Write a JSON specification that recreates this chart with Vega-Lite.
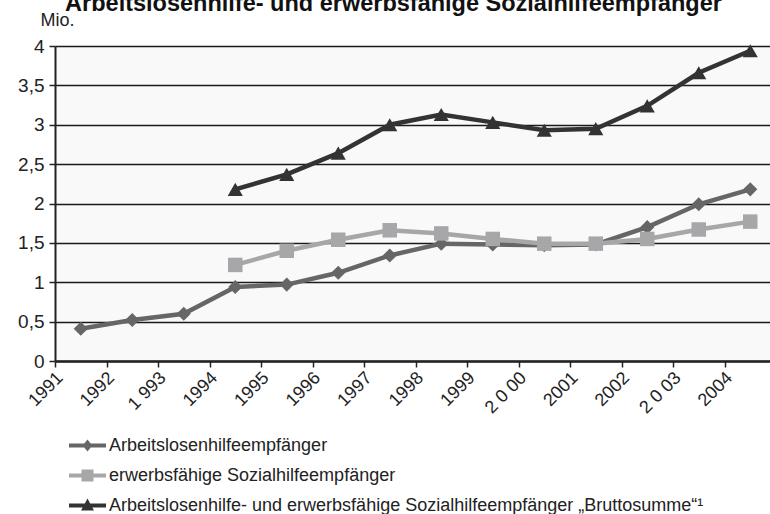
{
  "$schema": "https://vega.github.io/schema/vega-lite/v6.json",
  "autosize": {"type": "none"},
  "padding": {"left": 55, "top": 46, "right": 0, "bottom": 153},
  "width": 721,
  "height": 315,
  "background": "white",
  "title": {
    "text": "Arbeitslosenhilfe- und erwerbsfähige Sozialhilfeempfänger",
    "font": "Liberation Sans",
    "fontSize": 23.5,
    "fontWeight": "bold",
    "color": "#111111",
    "anchor": "middle",
    "frame": "group",
    "baseline": "alphabetic",
    "offset": -23,
    "dx": -22
  },
  "config": {
    "view": {"fill": "#f9f9f9", "stroke": null},
    "font": "Liberation Sans"
  },
  "data": {
    "values": [
      {"Jahr": "1991", "Reihe": "Arbeitslosenhilfeempfänger", "Wert": 0.41},
      {"Jahr": "1992", "Reihe": "Arbeitslosenhilfeempfänger", "Wert": 0.52},
      {"Jahr": "1993", "Reihe": "Arbeitslosenhilfeempfänger", "Wert": 0.6},
      {"Jahr": "1994", "Reihe": "Arbeitslosenhilfeempfänger", "Wert": 0.94},
      {"Jahr": "1995", "Reihe": "Arbeitslosenhilfeempfänger", "Wert": 0.97},
      {"Jahr": "1996", "Reihe": "Arbeitslosenhilfeempfänger", "Wert": 1.12},
      {"Jahr": "1997", "Reihe": "Arbeitslosenhilfeempfänger", "Wert": 1.34},
      {"Jahr": "1998", "Reihe": "Arbeitslosenhilfeempfänger", "Wert": 1.49},
      {"Jahr": "1999", "Reihe": "Arbeitslosenhilfeempfänger", "Wert": 1.48},
      {"Jahr": "2000", "Reihe": "Arbeitslosenhilfeempfänger", "Wert": 1.47},
      {"Jahr": "2001", "Reihe": "Arbeitslosenhilfeempfänger", "Wert": 1.48},
      {"Jahr": "2002", "Reihe": "Arbeitslosenhilfeempfänger", "Wert": 1.7},
      {"Jahr": "2003", "Reihe": "Arbeitslosenhilfeempfänger", "Wert": 1.99},
      {"Jahr": "2004", "Reihe": "Arbeitslosenhilfeempfänger", "Wert": 2.18},
      {"Jahr": "1994", "Reihe": "erwerbsfähige Sozialhilfeempfänger", "Wert": 1.22},
      {"Jahr": "1995", "Reihe": "erwerbsfähige Sozialhilfeempfänger", "Wert": 1.4},
      {"Jahr": "1996", "Reihe": "erwerbsfähige Sozialhilfeempfänger", "Wert": 1.54},
      {"Jahr": "1997", "Reihe": "erwerbsfähige Sozialhilfeempfänger", "Wert": 1.66},
      {"Jahr": "1998", "Reihe": "erwerbsfähige Sozialhilfeempfänger", "Wert": 1.62},
      {"Jahr": "1999", "Reihe": "erwerbsfähige Sozialhilfeempfänger", "Wert": 1.55},
      {"Jahr": "2000", "Reihe": "erwerbsfähige Sozialhilfeempfänger", "Wert": 1.49},
      {"Jahr": "2001", "Reihe": "erwerbsfähige Sozialhilfeempfänger", "Wert": 1.49},
      {"Jahr": "2002", "Reihe": "erwerbsfähige Sozialhilfeempfänger", "Wert": 1.55},
      {"Jahr": "2003", "Reihe": "erwerbsfähige Sozialhilfeempfänger", "Wert": 1.67},
      {"Jahr": "2004", "Reihe": "erwerbsfähige Sozialhilfeempfänger", "Wert": 1.77},
      {"Jahr": "1994", "Reihe": "Arbeitslosenhilfe- und erwerbsfähige Sozialhilfeempfänger „Bruttosumme“¹", "Wert": 2.18},
      {"Jahr": "1995", "Reihe": "Arbeitslosenhilfe- und erwerbsfähige Sozialhilfeempfänger „Bruttosumme“¹", "Wert": 2.37},
      {"Jahr": "1996", "Reihe": "Arbeitslosenhilfe- und erwerbsfähige Sozialhilfeempfänger „Bruttosumme“¹", "Wert": 2.64},
      {"Jahr": "1997", "Reihe": "Arbeitslosenhilfe- und erwerbsfähige Sozialhilfeempfänger „Bruttosumme“¹", "Wert": 3.0},
      {"Jahr": "1998", "Reihe": "Arbeitslosenhilfe- und erwerbsfähige Sozialhilfeempfänger „Bruttosumme“¹", "Wert": 3.13},
      {"Jahr": "1999", "Reihe": "Arbeitslosenhilfe- und erwerbsfähige Sozialhilfeempfänger „Bruttosumme“¹", "Wert": 3.03},
      {"Jahr": "2000", "Reihe": "Arbeitslosenhilfe- und erwerbsfähige Sozialhilfeempfänger „Bruttosumme“¹", "Wert": 2.93},
      {"Jahr": "2001", "Reihe": "Arbeitslosenhilfe- und erwerbsfähige Sozialhilfeempfänger „Bruttosumme“¹", "Wert": 2.95},
      {"Jahr": "2002", "Reihe": "Arbeitslosenhilfe- und erwerbsfähige Sozialhilfeempfänger „Bruttosumme“¹", "Wert": 3.24},
      {"Jahr": "2003", "Reihe": "Arbeitslosenhilfe- und erwerbsfähige Sozialhilfeempfänger „Bruttosumme“¹", "Wert": 3.66},
      {"Jahr": "2004", "Reihe": "Arbeitslosenhilfe- und erwerbsfähige Sozialhilfeempfänger „Bruttosumme“¹", "Wert": 3.94}
    ]
  },
  "encoding": {
    "x": {
      "field": "Jahr",
      "type": "ordinal",
      "scale": {"type": "band", "paddingInner": 0, "paddingOuter": 0},
      "axis": {
        "title": null,
        "tickBand": "extent",
        "grid": false,
        "domain": true,
        "domainColor": "#222222",
        "domainWidth": 2.5,
        "ticks": true,
        "tickColor": "#222222",
        "tickWidth": 1.5,
        "tickSize": 6,
        "labelAngle": -45,
        "labelAlign": "right",
        "labelBaseline": "middle",
        "labelPadding": 8,
        "labelOffset": -21,
        "labelFont": "Liberation Sans",
        "labelFontSize": 18,
        "labelColor": "#222222",
        "labelExpr": "datum.value == '2000' ? '2 0 00' : datum.value == '2003' ? '2 0 03' : datum.value == '1993' ? '1 993' : datum.value"
      }
    },
    "y": {
      "field": "Wert",
      "type": "quantitative",
      "scale": {"domain": [0, 4], "nice": false},
      "axis": {
        "values": [0, 0.5, 1, 1.5, 2, 2.5, 3, 3.5, 4],
        "labelExpr": "replace(toString(datum.value), '.', ',')",
        "labelFont": "Liberation Sans",
        "labelFontSize": 19,
        "labelColor": "#222222",
        "labelPadding": 5,
        "tickSize": 6,
        "tickColor": "#222222",
        "tickWidth": 1.5,
        "domainColor": "#222222",
        "domainWidth": 2,
        "grid": true,
        "gridColor": "#1a1a1a",
        "gridWidth": 1.5,
        "title": "Mio.",
        "titleAngle": 0,
        "titleAlign": "left",
        "titleBaseline": "alphabetic",
        "titleX": -15,
        "titleY": -21,
        "titleFont": "Liberation Sans",
        "titleFontSize": 18,
        "titleFontWeight": "normal",
        "titleColor": "#222222"
      }
    }
  },
  "layer": [
    {
      "mark": {"type": "line", "strokeWidth": 4.5},
      "encoding": {
        "color": {
          "field": "Reihe",
          "type": "nominal",
          "scale": {
            "domain": ["Arbeitslosenhilfeempfänger", "erwerbsfähige Sozialhilfeempfänger", "Arbeitslosenhilfe- und erwerbsfähige Sozialhilfeempfänger „Bruttosumme“¹"],
            "range": ["#666666", "#a7a7a9", "#333333"]
          },
          "legend": {
            "title": null,
            "orient": "none",
            "legendX": 23,
            "legendY": 390,
            "direction": "vertical",
            "symbolSize": 342,
            "symbolStrokeWidth": 0,
            "labelFont": "Liberation Sans",
            "labelFontSize": 18,
            "labelColor": "#222222",
            "labelOffset": 12,
            "rowPadding": 11,
            "labelLimit": 700,
            "encode": {
              "symbols": {
                "update": {
                  "shape": {"signal": "datum.value == 'Arbeitslosenhilfeempfänger' ? 'M-2,-0.216H-0.35L0,-0.65L0.35,-0.216H2V0.216H0.35L0,0.65L-0.35,0.216H-2Z' : datum.value == 'erwerbsfähige Sozialhilfeempfänger' ? 'M-2,-0.216H-0.65V-0.65H0.65V-0.216H2V0.216H0.65V0.65H-0.65V0.216H-2Z' : 'M-2,-0.216H-0.2875L0,-0.75L0.2875,-0.216H2V0.216H0.52L0.7,0.55H-0.7L-0.52,0.216H-2Z'"},
                  "fill": {"signal": "scale('color', datum.value)"},
                  "fillOpacity": {"value": 1},
                  "stroke": {"value": "transparent"},
                  "strokeWidth": {"value": 0}
                }
              }
            }
          }
        }
      }
    },
    {
      "transform": [{"filter": "datum.Reihe == 'Arbeitslosenhilfeempfänger'"}],
      "mark": {"type": "point", "filled": true, "opacity": 1, "shape": "diamond", "size": 200, "color": "#666666"}
    },
    {
      "transform": [{"filter": "datum.Reihe == 'erwerbsfähige Sozialhilfeempfänger'"}],
      "mark": {"type": "point", "filled": true, "opacity": 1, "shape": "square", "size": 210, "color": "#a7a7a9"}
    },
    {
      "transform": [{"filter": "datum.Reihe == 'Arbeitslosenhilfe- und erwerbsfähige Sozialhilfeempfänger „Bruttosumme“¹'"}],
      "mark": {"type": "point", "filled": true, "opacity": 1, "shape": "triangle-up", "size": 230, "color": "#333333"}
    }
  ]
}
